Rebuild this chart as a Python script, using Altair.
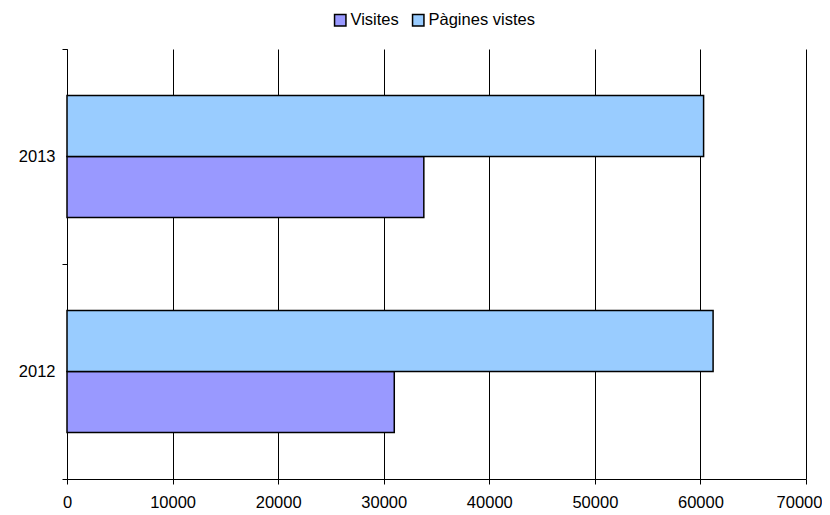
import altair as alt
import pandas as pd

years = ["2012", "2013"]
visites = [31000, 33800]
pagines = [61200, 60300]
series = ["Visites", "Pàgines vistes"]
colors = ["#9999FF", "#99CCFF"]
x_ticks = [0, 10000, 20000, 30000, 40000, 50000, 60000, 70000]

rows = []
for i, y in enumerate(years):
    rows.append({"year": y, "serie": series[0], "value": visites[i]})
    rows.append({"year": y, "serie": series[1], "value": pagines[i]})
df = pd.DataFrame(rows)

font = "Liberation Sans"

chart = alt.Chart(df).mark_bar(stroke="black", strokeWidth=1.5).encode(
    x=alt.X("value:Q",
            scale=alt.Scale(domain=[0, 70000], nice=False),
            axis=alt.Axis(values=x_ticks, format="d", title=None, grid=True,
                          gridColor="black", gridWidth=1, gridOpacity=1,
                          domainColor="black", tickColor="black", tickSize=5,
                          labelPadding=10, labelFontSize=16.5, labelFont=font,
                          labelColor="black", labelFlush=False,
                          labelOffset={"condition": {"test": "datum.value == 70000", "value": -7},
                                       "value": 0})),
    y=alt.Y("year:N", sort=["2013", "2012"],
            scale=alt.Scale(paddingInner=0, paddingOuter=0),
            axis=alt.Axis(title=None, tickBand="extent", tickSize=5,
                          tickColor="black", domainColor="black",
                          labelPadding=7, labelFontSize=16.5, labelFont=font,
                          labelColor="black", grid=False)),
    yOffset=alt.YOffset("serie:N", sort=["Pàgines vistes", "Visites"],
                        scale=alt.Scale(paddingInner=0, paddingOuter=0.762)),
    color=alt.Color("serie:N",
                    scale=alt.Scale(domain=series, range=colors),
                    legend=alt.Legend(title=None, orient="none", direction="horizontal",
                                      legendX=265, legendY=-37,
                                      symbolType="square", symbolSize=130,
                                      symbolStrokeColor="black", symbolStrokeWidth=1.5,
                                      symbolOpacity=1,
                                      labelFontSize=16.5, labelFont=font, labelColor="black",
                                      labelOffset=2, columnPadding=10)),
).properties(
    width=739,
    height=430,
    autosize=alt.AutoSizeParams(type="none"),
    padding={"left": 59, "top": 41, "right": 16, "bottom": 30},
).configure_view(stroke=None)

chart.save("out.html", embed_options={"renderer": "svg", "actions": False})
